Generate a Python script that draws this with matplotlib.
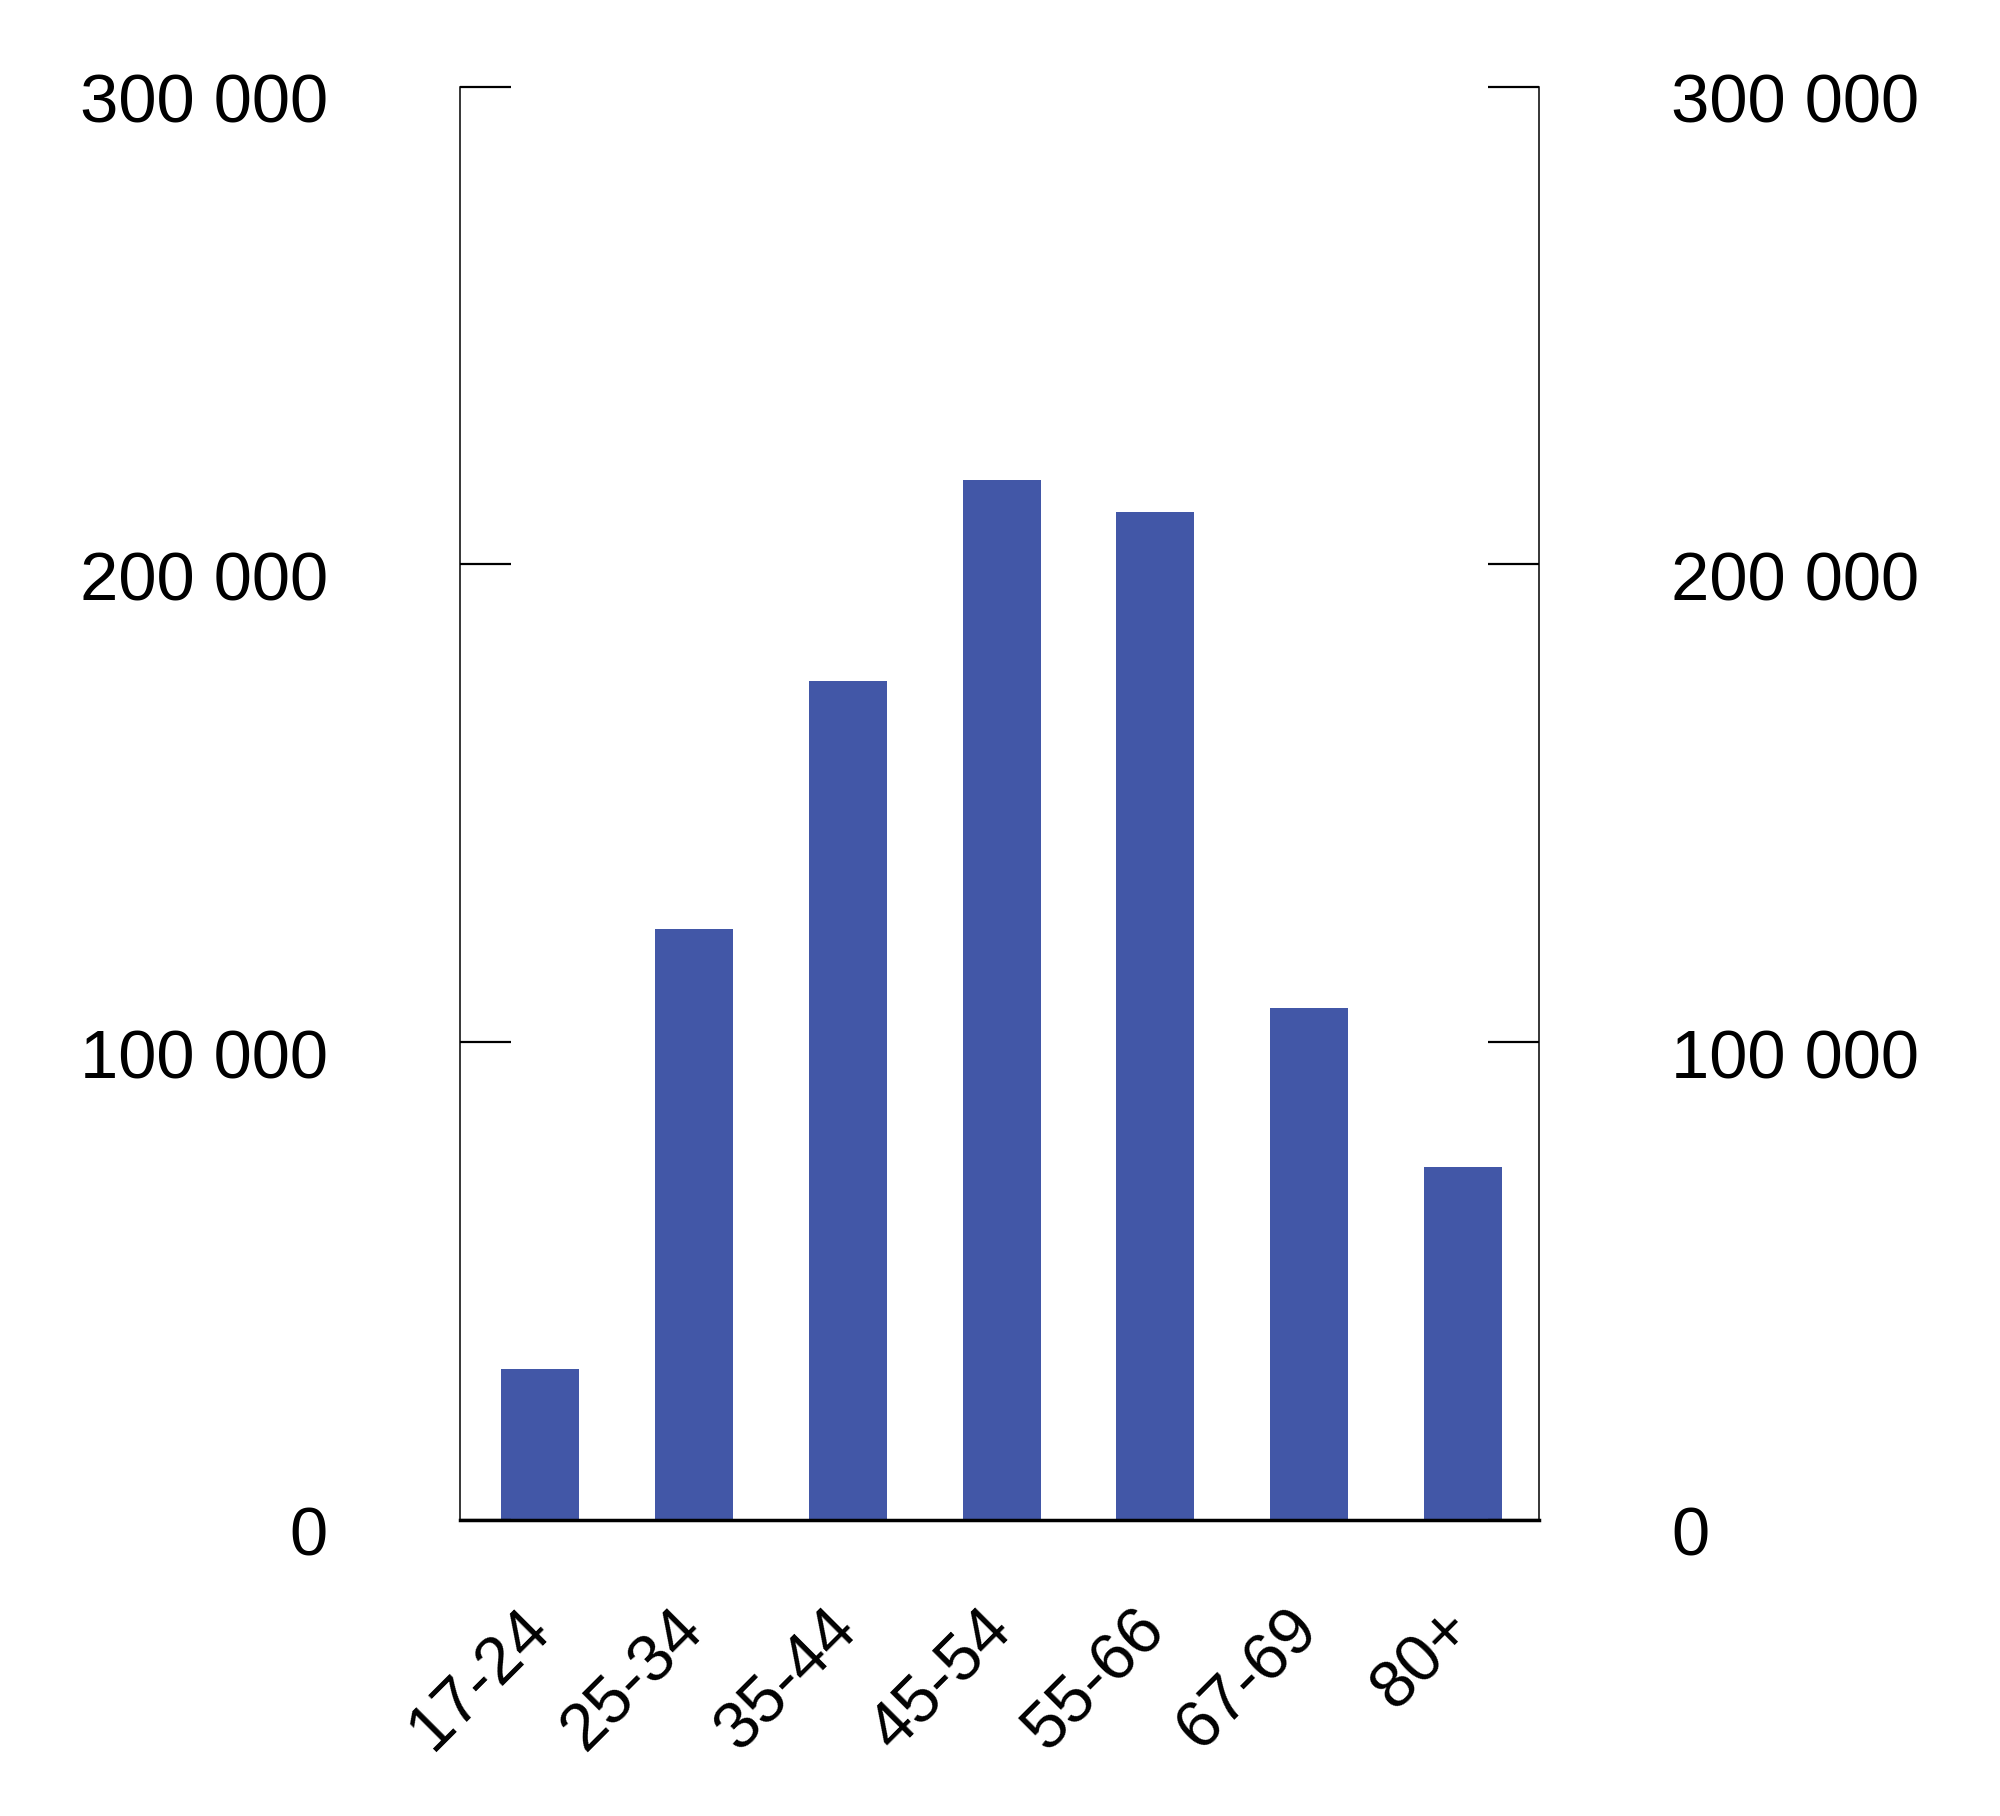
import matplotlib
matplotlib.use("Agg")
import matplotlib.pyplot as plt
import matplotlib.transforms as mtransforms

# data
age_groups = ["17-24", "25-34", "35-44", "45-54", "55-66", "67-69", "80+"]
counts = [31700, 123700, 175700, 217600, 210900, 107200, 73900]
y_ticks = [0, 100000, 200000, 300000]
y_tick_labels = ["0", "100 000", "200 000", "300 000"]

plt.rcParams['font.family'] = ['Liberation Sans', 'DejaVu Sans']

fig = plt.figure(figsize=(20, 18.16), dpi=100)
ax = fig.add_axes([0.2298, 0.163, 0.5397, 0.7893])

x = list(range(len(age_groups)))
ax.bar(x, counts, width=0.507, color='#4257a7')

ax.set_xlim(-0.526, 6.496)
ax.set_ylim(0, 300000)

ax.set_yticks(y_ticks)
ax.set_yticklabels(y_tick_labels)
ax.set_xticks(x)
ax.set_xticklabels(age_groups, rotation=45, ha='right', va='top')

ax.spines['top'].set_visible(False)
ax.spines['left'].set_linewidth(1.1)
ax.spines['right'].set_linewidth(1.1)
ax.spines['bottom'].set_linewidth(2.5)

ax.tick_params(axis='y', direction='in', length=37, width=1.6,
               labelsize=49.5, pad=95, left=True, right=True,
               labelleft=True, labelright=True)
ax.tick_params(axis='x', length=0, labelsize=48, pad=56)

# y labels sit a little below their ticks in the original
shift = mtransforms.ScaledTranslation(0, -11 / 100, fig.dpi_scale_trans)
for t in ax.yaxis.get_major_ticks():
    t.label1.set_transform(t.label1.get_transform() + shift)
    t.label2.set_transform(t.label2.get_transform() + shift)

xshift = mtransforms.ScaledTranslation(22 / 100, 0, fig.dpi_scale_trans)
for t in ax.xaxis.get_major_ticks():
    t.label1.set_transform(t.label1.get_transform() + xshift)

fig.savefig("out.png", dpi=100)
